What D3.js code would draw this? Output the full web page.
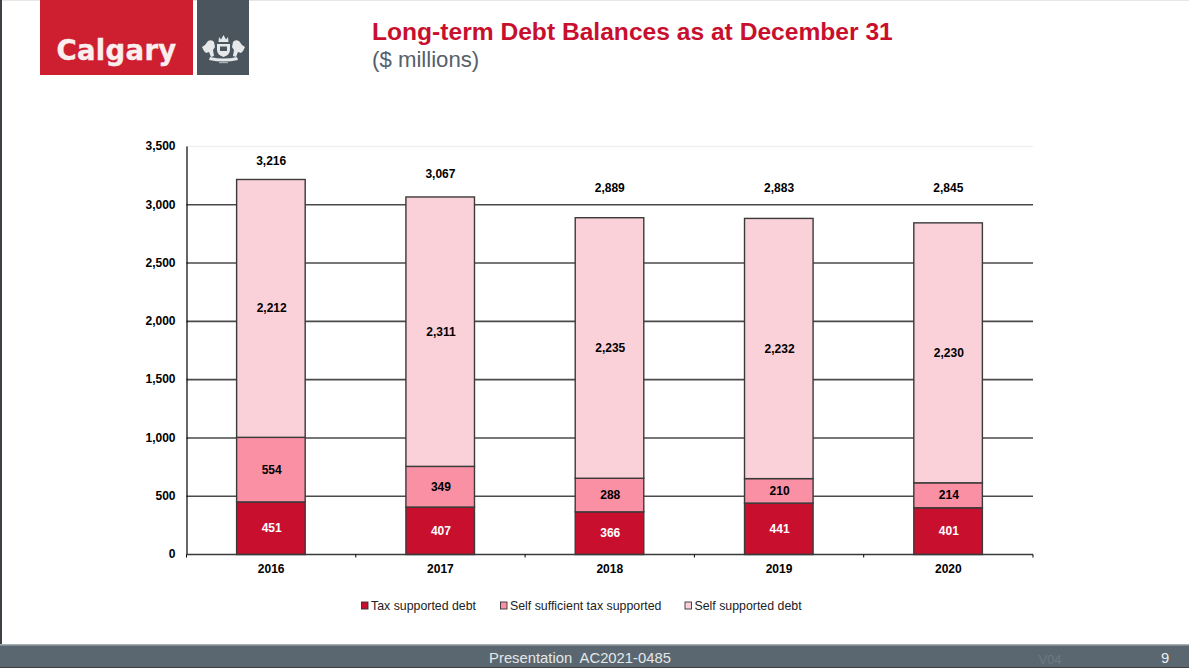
<!DOCTYPE html>
<html>
<head>
<meta charset="utf-8">
<title>Long-term Debt Balances</title>
<script src="https://d3js.org/d3.v7.min.js"></script>
<style>
  html, body { margin: 0; padding: 0; background: #fff; overflow: hidden; }
  svg { display: block; font-family: "Liberation Sans", Arial, sans-serif; }
</style>
</head>
<body>
<div id="chart"></div>
<script>
var years = ["2016", "2017", "2018", "2019", "2020"];
var seriesNames = ["Tax supported debt", "Self sufficient tax supported", "Self supported debt"];
var taxSupported = [451, 407, 366, 441, 401];
var selfSufficient = [554, 349, 288, 210, 214];
var selfSupported = [2212, 2311, 2235, 2232, 2230];
var totals = [3216, 3067, 2889, 2883, 2845];
var yTicks = [0, 500, 1000, 1500, 2000, 2500, 3000, 3500];

var seriesValues = [taxSupported, selfSufficient, selfSupported];
var colors = ["#c8102e", "#f990a4", "#fad1d8"];
var labelColors = ["#fff", "#000", "#000"];
// the totals sit at hand placed heights in the original slide
var totalLabelY = [161, 174, 188, 188, 188];
var legendX = [361.5, 500.5, 685];

var width = 1189, height = 668;
var svg = d3.select("#chart").append("svg")
  .attr("width", width)
  .attr("height", height);

// slide frame
svg.append("rect").attr("width", width).attr("height", 1).attr("fill", "#e6e6e6");
svg.append("rect").attr("width", 2).attr("height", height).attr("fill", "#3c4146");
svg.append("rect").attr("y", 645).attr("width", width).attr("height", 23).attr("fill", "#5a6770");
svg.append("rect").attr("y", 644).attr("width", width).attr("height", 1.5).attr("fill", "#a6adb2");
svg.append("rect").attr("y", 667).attr("width", width).attr("height", 1).attr("fill", "#3c4146");

// logo
svg.append("rect").attr("x", 40).attr("width", 153).attr("height", 75).attr("fill", "#cd1f30");
svg.append("rect").attr("x", 197).attr("width", 52).attr("height", 75).attr("fill", "#4b555d");
svg.append("text").attr("x", 116.5).attr("y", 60)
  .attr("text-anchor", "middle")
  .attr("font-family", "'DejaVu Sans', sans-serif")
  .attr("font-weight", 700).attr("font-size", 27.5).attr("letter-spacing", 0.3)
  .attr("stroke", "#fbeeee").attr("stroke-width", 0.4)
  .attr("fill", "#fbeeee").text("Calgary");

// crest, just a rough shape at this size
var crest = svg.append("g").attr("fill", "#e6e9ea");
crest.append("path").attr("d", "M202 47 l3 -2 l3 -4 q4 -2 6 1 l1 5 l-2 3 l1 6 l-3 1 l-2 -5 l-3 1 l-2 -2 z");
crest.append("path").attr("d", "M245 47 l-3 -2 l-3 -4 q-4 -2 -6 1 l-1 5 l2 3 l-1 6 l3 1 l2 -5 l3 1 l2 -2 z");
crest.append("path").attr("d", "M217 44 h13 v6 q0 5 -6.500 7 q-6.500 -2 -6.500 -7 z");
crest.append("path").attr("d", "M218.500 42 l0.500 -5 l2 2.500 l2.500 -4.500 l2.500 4.500 l2 -2.500 l0.500 5 z");
crest.append("path").attr("d", "M210 57 q14 3 27 0 l1 3 q-14 3 -29 0 z");
crest.append("rect").attr("x", 220).attr("y", 46.500).attr("width", 7).attr("height", 4.500).attr("fill", "#4b555d");
crest.append("rect").attr("x", 219).attr("y", 62).attr("width", 9).attr("height", 1.200).attr("opacity", 0.6);

// titles
svg.append("text").attr("x", 372).attr("y", 40)
  .attr("font-weight", 700).attr("font-size", 24.6).attr("fill", "#c8102e")
  .text("Long-term Debt Balances as at December 31");
svg.append("text").attr("x", 372).attr("y", 67)
  .attr("font-size", 22.2).attr("fill", "#56616b")
  .text("($ millions)");

// scales
var x = d3.scaleBand().domain(years).range([186.5, 1033]).paddingInner(0.592).paddingOuter(0.296);
var y = d3.scaleLinear().domain([0, 3500]).range([554.5, 146.5]);

// gridlines
svg.append("g").selectAll("line")
  .data(yTicks.filter(function(d) { return d > 0; }))
  .join("line")
  .attr("x1", 186.5).attr("x2", 1033)
  .attr("y1", function(d) { return y(d); })
  .attr("y2", function(d) { return y(d); })
  .attr("stroke", function(d) { return d == 3500 ? "#f0f0f0" : "#4a4a4a"; })
  .attr("stroke-width", 1.6);

// stacked bars
var rows = years.map(function(year, i) {
  return { year: year, a: taxSupported[i], b: selfSufficient[i], c: selfSupported[i] };
});
var stacked = d3.stack().keys(["a", "b", "c"])(rows);

var layers = svg.append("g").selectAll("g")
  .data(stacked)
  .join("g")
  .attr("fill", function(d, i) { return colors[i]; });

layers.selectAll("rect")
  .data(function(d) { return d; })
  .join("rect")
  .attr("x", function(d) { return x(d.data.year); })
  .attr("width", x.bandwidth() - 0.5)
  .attr("y", function(d) { return y(d[1]); })
  .attr("height", function(d) { return y(d[0]) - y(d[1]); })
  .attr("stroke", "#3a3a3a")
  .attr("stroke-width", 1.4);

// segment labels
stacked.forEach(function(layer, s) {
  svg.append("g").selectAll("text")
    .data(layer)
    .join("text")
    .attr("x", function(d) { return x(d.data.year) + x.bandwidth() / 2 + 0.5; })
    .attr("y", function(d) { return y((d[0] + d[1]) / 2) + 4; })
    .attr("text-anchor", "middle")
    .attr("font-size", 12).attr("font-weight", 700)
    .attr("fill", labelColors[s])
    .text(function(d, i) { return d3.format(",")(seriesValues[s][i]); });
});

// totals
svg.append("g").selectAll("text")
  .data(totals)
  .join("text")
  .attr("x", function(d, i) { return x(years[i]) + x.bandwidth() / 2; })
  .attr("y", function(d, i) { return totalLabelY[i] + 4; })
  .attr("text-anchor", "middle")
  .attr("font-size", 12).attr("font-weight", 700).attr("fill", "#000")
  .text(d3.format(","));

// axes
var yAxis = d3.axisLeft(y).tickValues(yTicks).tickSize(0).tickPadding(11).tickFormat(d3.format(","));
var yG = svg.append("g").attr("transform", "translate(186.5,-0.5)").call(yAxis);
yG.select(".domain").attr("stroke", "#000").attr("stroke-width", 1.2);
yG.selectAll("text").attr("font-family", "'Liberation Sans', Arial, sans-serif")
  .attr("font-size", 12).attr("font-weight", 700).attr("fill", "#000");

svg.append("line")
  .attr("x1", 186.5).attr("x2", 1033)
  .attr("y1", y(0)).attr("y2", y(0))
  .attr("stroke", "#3a3a3a").attr("stroke-width", 1.6);

var step = x.step();
svg.append("g").selectAll("line")
  .data(d3.range(years.length + 1))
  .join("line")
  .attr("x1", function(d) { return 186.5 + d * step; })
  .attr("x2", function(d) { return 186.5 + d * step; })
  .attr("y1", y(0)).attr("y2", y(0) + 3)
  .attr("stroke", "#000").attr("stroke-width", 1);

svg.append("g").selectAll("text")
  .data(years)
  .join("text")
  .attr("x", function(d) { return x(d) + x.bandwidth() / 2; })
  .attr("y", 573)
  .attr("text-anchor", "middle")
  .attr("font-size", 12).attr("font-weight", 700).attr("fill", "#000")
  .text(function(d) { return d; });

// legend
var legend = svg.append("g").selectAll("g")
  .data(seriesNames)
  .join("g")
  .attr("transform", function(d, i) { return "translate(" + legendX[i] + ",601)"; });
legend.append("rect")
  .attr("y", 1).attr("width", 6.500).attr("height", 7)
  .attr("fill", function(d, i) { return colors[i]; })
  .attr("stroke", "#333").attr("stroke-width", 0.9);
legend.append("text")
  .attr("x", 9.500).attr("y", 8.500)
  .attr("font-size", 12.35).attr("fill", "#222")
  .text(function(d) { return d; });

// footer
svg.append("text").attr("x", 580).attr("y", 662.5)
  .attr("text-anchor", "middle").attr("font-size", 14.8).attr("fill", "#e4e7e9")
  .attr("xml:space", "preserve")
  .text("Presentation  AC2021-0485");
svg.append("text").attr("x", 1050).attr("y", 664)
  .attr("text-anchor", "middle").attr("font-size", 13).attr("fill", "#6d7982")
  .text("V04");
svg.append("text").attr("x", 1165).attr("y", 662.5)
  .attr("text-anchor", "middle").attr("font-size", 14.8).attr("fill", "#e9ecee")
  .text("9");
</script>
</body>
</html>
